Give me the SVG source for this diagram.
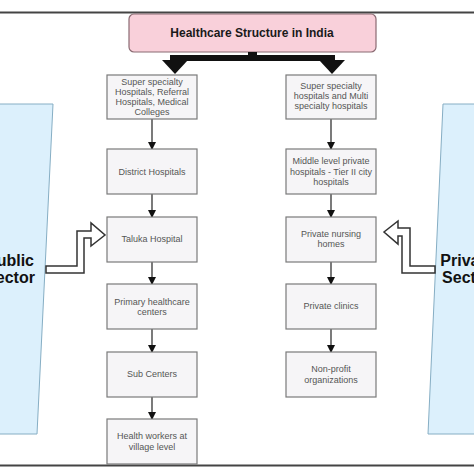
<svg xmlns="http://www.w3.org/2000/svg" width="474" height="474" viewBox="0 0 474 474">
<defs>
<style>
.bg{fill:#ffffff}
.rule{stroke:#444;stroke-width:2}
.sector{fill:#dcf0fc;stroke:#86aec4;stroke-width:1}
.box{fill:#f6f5f7;stroke:#7a7a7a;stroke-width:1.2}
.t{font-family:"Liberation Sans",Arial,sans-serif;font-size:9px;fill:#555;text-anchor:middle}
.title{font-family:"Liberation Sans",Arial,sans-serif;font-size:12px;font-weight:bold;fill:#1a1a1a;text-anchor:middle}
.sect{font-family:"Liberation Sans",Arial,sans-serif;font-size:16px;font-weight:bold;fill:#111;text-anchor:middle}
.link{stroke:#222;stroke-width:1.2;fill:none;marker-end:url(#ah)}
.hollow{fill:#ffffff;stroke:#333;stroke-width:1.5;stroke-linejoin:miter}
</style>
<marker id="ah" markerWidth="8" markerHeight="8" refX="7" refY="4" orient="auto" markerUnits="userSpaceOnUse">
<path d="M0,0 L8,4 L0,8 Z" fill="#111"/>
</marker>
</defs>
<rect class="bg" x="0" y="0" width="474" height="474"/>
<line class="rule" x1="0" y1="12.5" x2="474" y2="12.5"/>
<line class="rule" x1="0" y1="465.5" x2="474" y2="465.5"/>

<g id="public-sector">
<polygon class="sector" points="-5,104 53,104 37,434 -5,434"/>
<text class="sect" x="10" y="266">Public</text>
<text class="sect" x="10" y="283">Sector</text>
</g>
<g id="private-sector">
<polygon class="sector" points="443,104 480,104 480,434 428,434"/>
<text class="sect" x="467" y="266">Private</text>
<text class="sect" x="467" y="283">Sector</text>
</g>

<g id="title">
<rect x="129" y="14" width="247" height="38" rx="5" ry="5" fill="#f9d0da" stroke="#8a6a72" stroke-width="1.2"/>
<text class="title" x="252" y="37">Healthcare Structure in India</text>
</g>

<g id="connectors">
<rect x="248" y="52" width="9" height="5" fill="#111"/>
<rect x="170" y="55" width="165" height="6" fill="#111"/>
<polygon points="162,60 188,60 175,74" fill="#111"/>
<polygon points="319,60 345,60 332,74" fill="#111"/>
<line class="link" x1="152" y1="119" x2="152" y2="149"/>
<line class="link" x1="152" y1="194" x2="152" y2="217"/>
<line class="link" x1="152" y1="262" x2="152" y2="284"/>
<line class="link" x1="152" y1="329" x2="152" y2="352"/>
<line class="link" x1="152" y1="397" x2="152" y2="419"/>
<line class="link" x1="331" y1="119" x2="331" y2="149"/>
<line class="link" x1="331" y1="194" x2="331" y2="217"/>
<line class="link" x1="331" y1="262" x2="331" y2="284"/>
<line class="link" x1="331" y1="329" x2="331" y2="352"/>
<polygon class="hollow" points="46,266 77,266 77,231 91,231 91,223 105,235 91,246 91,238 84,238 84,273 46,273"/>
<polygon class="hollow" points="435,266 410,266 410,228 398,228 398,221 384,232 398,244 398,236 402,236 402,273 435,273"/>
</g>

<g id="pub1">
<rect class="box" x="107" y="75" width="90" height="44"/>
<text class="t" x="152" y="85">Super specialty</text>
<text class="t" x="152" y="95">Hospitals, Referral</text>
<text class="t" x="152" y="105">Hospitals, Medical</text>
<text class="t" x="152" y="115">Colleges</text>
</g>
<g id="pub2">
<rect class="box" x="107" y="149" width="90" height="45"/>
<text class="t" x="152" y="175">District Hospitals</text>
</g>
<g id="pub3">
<rect class="box" x="107" y="217" width="90" height="45"/>
<text class="t" x="152" y="242">Taluka Hospital</text>
</g>
<g id="pub4">
<rect class="box" x="107" y="284" width="90" height="45"/>
<text class="t" x="152" y="305">Primary healthcare</text>
<text class="t" x="152" y="315">centers</text>
</g>
<g id="pub5">
<rect class="box" x="107" y="352" width="90" height="45"/>
<text class="t" x="152" y="377">Sub Centers</text>
</g>
<g id="pub6">
<rect class="box" x="107" y="419" width="90" height="45"/>
<text class="t" x="152" y="439">Health workers at</text>
<text class="t" x="152" y="450">village level</text>
</g>

<g id="pri1">
<rect class="box" x="286" y="75" width="90" height="44"/>
<text class="t" x="331" y="89">Super specialty</text>
<text class="t" x="331" y="99">hospitals and Multi</text>
<text class="t" x="331" y="109">specialty hospitals</text>
</g>
<g id="pri2">
<rect class="box" x="286" y="149" width="90" height="45"/>
<text class="t" x="331" y="164">Middle level private</text>
<text class="t" x="331" y="174.5">hospitals - Tier II city</text>
<text class="t" x="331" y="185">hospitals</text>
</g>
<g id="pri3">
<rect class="box" x="286" y="217" width="90" height="45"/>
<text class="t" x="331" y="237">Private nursing</text>
<text class="t" x="331" y="247">homes</text>
</g>
<g id="pri4">
<rect class="box" x="286" y="284" width="90" height="45"/>
<text class="t" x="331" y="309">Private clinics</text>
</g>
<g id="pri5">
<rect class="box" x="286" y="352" width="90" height="45"/>
<text class="t" x="331" y="372">Non-profit</text>
<text class="t" x="331" y="383">organizations</text>
</g>
</svg>
